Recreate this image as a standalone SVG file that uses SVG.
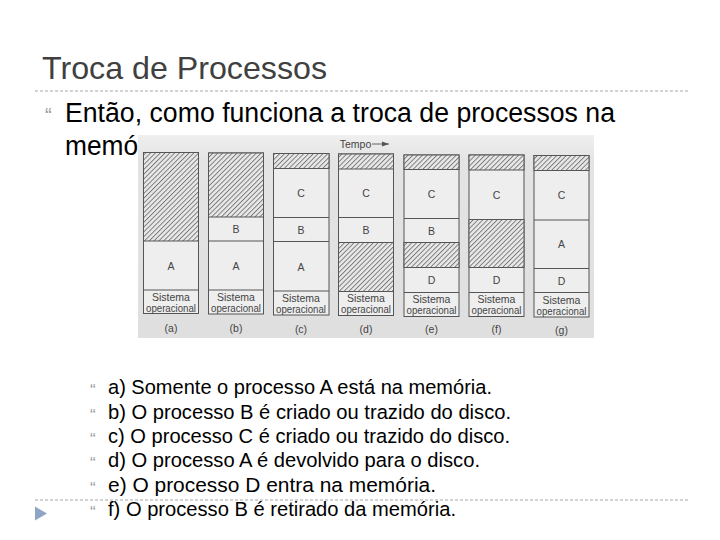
<svg xmlns="http://www.w3.org/2000/svg" width="720" height="540" viewBox="0 0 720 540">
<style>
.title{font-family:"Liberation Sans",Arial,sans-serif;font-size:32px;fill:#404040}
.body{font-family:"Liberation Sans",Arial,sans-serif;fill:#000}
.bul{font-family:"Liberation Sans",Arial,sans-serif;fill:#9a9a9a}
.dash{stroke:#a6a6a6;stroke-width:1;stroke-dasharray:3 2;fill:none}
.box{fill:#eeeeee;stroke:#555;stroke-width:1}
.hat{fill:url(#hatch);stroke:#555;stroke-width:1}
.sep{stroke:#555;stroke-width:1}
.lbl{font-family:"Liberation Sans",Arial,sans-serif;font-size:10.5px;fill:#444;text-anchor:middle}
.os{font-family:"Liberation Sans",Arial,sans-serif;font-size:10.5px;fill:#444;text-anchor:middle}
</style>
<defs>
<pattern id="hatch" patternUnits="userSpaceOnUse" width="3.4" height="10" patternTransform="rotate(45)">
<rect x="0" y="0" width="3.4" height="10" fill="#e8e8e8"/>
<line x1="0.5" y1="0" x2="0.5" y2="10" stroke="#5a5a5a" stroke-width="0.8"/>
</pattern>
<linearGradient id="photo" x1="0" y1="0" x2="0" y2="1">
<stop offset="0" stop-color="#efefef"/>
<stop offset="0.12" stop-color="#e4e4e4"/>
<stop offset="1" stop-color="#dfdfdf"/>
</linearGradient>
<marker id="arr" markerWidth="8" markerHeight="6" refX="7" refY="3" orient="auto" markerUnits="userSpaceOnUse">
<path d="M0,0.5 L7,3 L0,5.5 z" fill="#555"/>
</marker>
</defs>
<rect width="720" height="540" fill="#fff"/>
<g id="header">
<text class="title" x="42" y="79" textLength="285" lengthAdjust="spacingAndGlyphs">Troca de Processos</text>
<line class="dash" x1="35" y1="91" x2="690" y2="91"/>
<text class="bul" x="45" y="122" font-size="20">“</text>
<text class="body" x="65" y="122" font-size="27" textLength="550" lengthAdjust="spacingAndGlyphs">Então, como funciona a troca de processos na</text>
<text class="body" x="65" y="155" font-size="27" textLength="117" lengthAdjust="spacingAndGlyphs">memória?</text>
</g>
<g id="figure">
<rect x="138" y="135" width="456" height="203" fill="url(#photo)"/>
<g id="col-a">
<rect class="box" x="143.5" y="152.5" width="55" height="161"/>
<rect class="hat" x="143.5" y="152.5" width="55" height="88.5"/>
<line class="sep" x1="143.5" y1="290" x2="198.5" y2="290"/>
<text class="lbl" x="171" y="269.5">A</text>
<text class="os" x="171" y="300.5">Sistema</text>
<text class="os" x="171" y="311.5" textLength="50" lengthAdjust="spacingAndGlyphs">operacional</text>
<text class="lbl" x="171" y="332">(a)</text>
</g>
<g id="col-b">
<rect class="box" x="208.5" y="153" width="55" height="161"/>
<rect class="hat" x="208.5" y="153" width="55" height="64"/>
<line class="sep" x1="208.5" y1="241" x2="263.5" y2="241"/>
<line class="sep" x1="208.5" y1="290" x2="263.5" y2="290"/>
<text class="lbl" x="236" y="233">B</text>
<text class="lbl" x="236" y="269.5">A</text>
<text class="os" x="236" y="301">Sistema</text>
<text class="os" x="236" y="312" textLength="50" lengthAdjust="spacingAndGlyphs">operacional</text>
<text class="lbl" x="236" y="332">(b)</text>
</g>
<g id="col-c">
<rect class="box" x="273.5" y="153.5" width="55.5" height="161.5"/>
<rect class="hat" x="273.5" y="153.5" width="55.5" height="15"/>
<line class="sep" x1="273.5" y1="217.5" x2="329" y2="217.5"/>
<line class="sep" x1="273.5" y1="241.5" x2="329" y2="241.5"/>
<line class="sep" x1="273.5" y1="291" x2="329" y2="291"/>
<text class="lbl" x="301" y="196.5">C</text>
<text class="lbl" x="301" y="233.5">B</text>
<text class="lbl" x="301" y="270.5">A</text>
<text class="os" x="301" y="301.5">Sistema</text>
<text class="os" x="301" y="312.5" textLength="50" lengthAdjust="spacingAndGlyphs">operacional</text>
<text class="lbl" x="301" y="332.5">(c)</text>
</g>
<g id="col-d">
<rect class="box" x="338.5" y="154" width="55" height="161.5"/>
<rect class="hat" x="338.5" y="154" width="55" height="15"/>
<line class="sep" x1="338.5" y1="217.5" x2="393.5" y2="217.5"/>
<rect class="hat" x="338.5" y="242.5" width="55" height="49"/>
<text class="lbl" x="366" y="197">C</text>
<text class="lbl" x="366" y="234">B</text>
<text class="os" x="366" y="302">Sistema</text>
<text class="os" x="366" y="313" textLength="50" lengthAdjust="spacingAndGlyphs">operacional</text>
<text class="lbl" x="366" y="332.5">(d)</text>
</g>
<g id="col-e">
<rect class="box" x="404" y="155" width="55" height="161.5"/>
<rect class="hat" x="404" y="155" width="55" height="14.5"/>
<line class="sep" x1="404" y1="218.5" x2="459" y2="218.5"/>
<rect class="hat" x="404" y="242.5" width="55" height="25"/>
<line class="sep" x1="404" y1="292.5" x2="459" y2="292.5"/>
<text class="lbl" x="431.5" y="198">C</text>
<text class="lbl" x="431.5" y="234.5">B</text>
<text class="lbl" x="431.5" y="284">D</text>
<text class="os" x="431.5" y="303">Sistema</text>
<text class="os" x="431.5" y="314" textLength="50" lengthAdjust="spacingAndGlyphs">operacional</text>
<text class="lbl" x="431.5" y="333">(e)</text>
</g>
<g id="col-f">
<rect class="box" x="469" y="155" width="55" height="161.5"/>
<rect class="hat" x="469" y="155" width="55" height="15"/>
<rect class="hat" x="469" y="219.5" width="55" height="48"/>
<line class="sep" x1="469" y1="292.5" x2="524" y2="292.5"/>
<text class="lbl" x="496.5" y="198.5">C</text>
<text class="lbl" x="496.5" y="284">D</text>
<text class="os" x="496.5" y="303">Sistema</text>
<text class="os" x="496.5" y="314" textLength="50" lengthAdjust="spacingAndGlyphs">operacional</text>
<text class="lbl" x="496.5" y="333">(f)</text>
</g>
<g id="col-g">
<rect class="box" x="534" y="155.5" width="55" height="161.5"/>
<rect class="hat" x="534" y="155.5" width="55" height="15"/>
<line class="sep" x1="534" y1="220" x2="589" y2="220"/>
<line class="sep" x1="534" y1="268.5" x2="589" y2="268.5"/>
<line class="sep" x1="534" y1="292.5" x2="589" y2="292.5"/>
<text class="lbl" x="561.5" y="199">C</text>
<text class="lbl" x="561.5" y="247.5">A</text>
<text class="lbl" x="561.5" y="284.5">D</text>
<text class="os" x="561.5" y="303.5">Sistema</text>
<text class="os" x="561.5" y="314.5" textLength="50" lengthAdjust="spacingAndGlyphs">operacional</text>
<text class="lbl" x="561.5" y="333.5">(g)</text>
</g>
<text class="lbl" x="355.5" y="147.5" font-size="9">Tempo</text>
</g>
<g id="connectors">
<line x1="372" y1="144" x2="389" y2="144" stroke="#555" stroke-width="0.9" marker-end="url(#arr)"/>
</g>
<g id="list">
<line class="dash" x1="35" y1="500" x2="690" y2="500"/>
<path d="M35,506.5 L47,513.5 L35,520.5 z" fill="#8fa5c4"/>
<g class="bul" font-size="17">
<text x="90" y="396">“</text>
<text x="90" y="420.5">“</text>
<text x="90" y="445">“</text>
<text x="90" y="469">“</text>
<text x="90" y="493.5">“</text>
<text x="90" y="518">“</text>
</g>
<g class="body" font-size="20.5">
<text x="108" y="394" textLength="384" lengthAdjust="spacingAndGlyphs">a) Somente o processo A está na memória.</text>
<text x="108" y="418.5" textLength="403" lengthAdjust="spacingAndGlyphs">b) O processo B é criado ou trazido do disco.</text>
<text x="108" y="443" textLength="402" lengthAdjust="spacingAndGlyphs">c) O processo C é criado ou trazido do disco.</text>
<text x="108" y="467" textLength="372" lengthAdjust="spacingAndGlyphs">d) O processo A é devolvido para o disco.</text>
<text x="108" y="491.5" textLength="328" lengthAdjust="spacingAndGlyphs">e) O processo D entra na memória.</text>
<text x="108" y="516" textLength="348" lengthAdjust="spacingAndGlyphs">f) O processo B é retirado da memória.</text>
</g>
</g>
</svg>
